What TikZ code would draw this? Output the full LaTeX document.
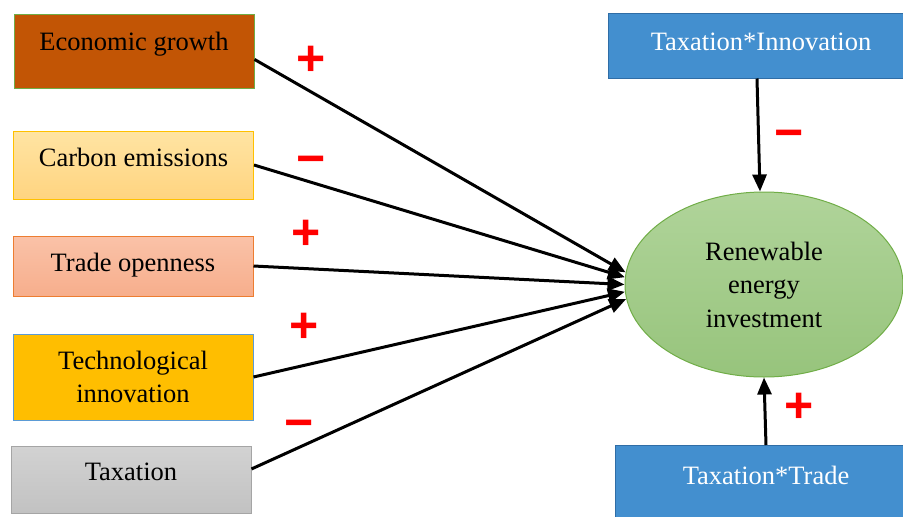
\documentclass[tikz,border=0pt]{standalone}
\usepackage{fontspec}
\setmainfont{Liberation Serif}
\newfontfamily\boxfont{Liberation Serif}
\newfontfamily\signfont{Liberation Sans}
\usetikzlibrary{arrows.meta,shapes.geometric}

\definecolor{egfill}{HTML}{C25505}
\definecolor{egline}{HTML}{70AD47}
\definecolor{cetop}{HTML}{FFE4A3}
\definecolor{cebot}{HTML}{FFD480}
\definecolor{celine}{HTML}{FFC000}
\definecolor{totop}{HTML}{FAC2A8}
\definecolor{tobot}{HTML}{F7AE8C}
\definecolor{toline}{HTML}{ED7D31}
\definecolor{tifill}{HTML}{FFBE00}
\definecolor{tiline}{HTML}{5B9BD5}
\definecolor{taxtop}{HTML}{D2D2D2}
\definecolor{taxbot}{HTML}{C2C2C2}
\definecolor{taxline}{HTML}{A5A5A5}
\definecolor{modfill}{HTML}{438FCF}
\definecolor{modline}{HTML}{2F6DA6}
\definecolor{reitop}{HTML}{B0D49A}
\definecolor{reibot}{HTML}{97C47C}
\definecolor{reiline}{HTML}{70AD47}

\tikzset{
	factor/.style={draw, line width=1pt, minimum width=240pt, align=center, inner sep=0pt,
		font=\boxfont\fontsize{26.5}{33.5}\selectfont, text height=18pt, text depth=6pt},
	moderator/.style={factor, fill=modfill, draw=modline, text=white, minimum width=306pt},
	link/.style={line width=3pt, -{Triangle[length=17pt,width=14pt]}},
	sign/.style={text=red, inner sep=0pt, font=\signfont\bfseries\fontsize{50}{50}\selectfont},
}

\begin{document}
\begin{tikzpicture}[x=1pt,y=-1pt]
	\useasboundingbox (0,0) rectangle (903,517);
	\clip (0,0) rectangle (903,517);
	
	\node[factor, fill=egfill, draw=egline, minimum height=74pt, text depth=20pt] (eg) at (134,51) {Economic growth};
	\node[factor, top color=cetop, bottom color=cebot, draw=celine, minimum height=68pt, text depth=16pt] (ce) at (133.5,165) {Carbon emissions};
	\node[factor, top color=totop, bottom color=tobot, draw=toline, minimum height=60pt, text depth=8pt] (to) at (133,266) {Trade openness};
	\node[factor, fill=tifill, draw=tiline, minimum height=86pt, text height=, text depth=] (ti) at (133,377) {Technological\\innovation};
	\node[factor, top color=taxtop, bottom color=taxbot, draw=taxline, minimum height=67pt, text depth=17pt] (tax) at (131,479.5) {Taxation};
	
	\node[moderator, minimum height=65pt, text depth=9pt] (tinn) at (761,45.5) {Taxation*Innovation};
	\node[moderator, anchor=north, inner ysep=20pt, text height=19pt, text depth=44pt, minimum width=302pt] (ttr) at (766,445) {Taxation*Trade};
	
	\node[ellipse, draw=reiline, line width=1pt, top color=reitop, bottom color=reibot,
		minimum width=278pt, minimum height=185pt, inner sep=0pt, align=center,
		font=\boxfont\fontsize{26.5}{33.5}\selectfont] (rei) at (764,284.5) {Renewable\\energy\\investment};
	
	\draw[link] (eg.-4) -- (rei.175);
	\draw[link] (ce.east) -- (rei.177.5);
	\draw[link] (to.east) -- (rei.180.5);
	\draw[link] (ti.east) -- (rei.183.5);
	\draw[link] (tax.5) -- (rei.186.5);
	\draw[link] ([xshift=-4pt]tinn.south) -- ([xshift=-4pt]rei.north);
	\draw[link] (ttr.north) -- (rei.south);
	
	\node[sign] (s1) at (311,61) {+};
	\node[sign] (s2) at (311,166) {−};
	\node[sign] (s3) at (306,235) {+};
	\node[sign] (s4) at (304,328) {+};
	\node[sign] (s5) at (299,430) {−};
	\node[sign] (s6) at (789,140) {−};
	\node[sign] (s7) at (799,408) {+};
\end{tikzpicture}
\end{document}
